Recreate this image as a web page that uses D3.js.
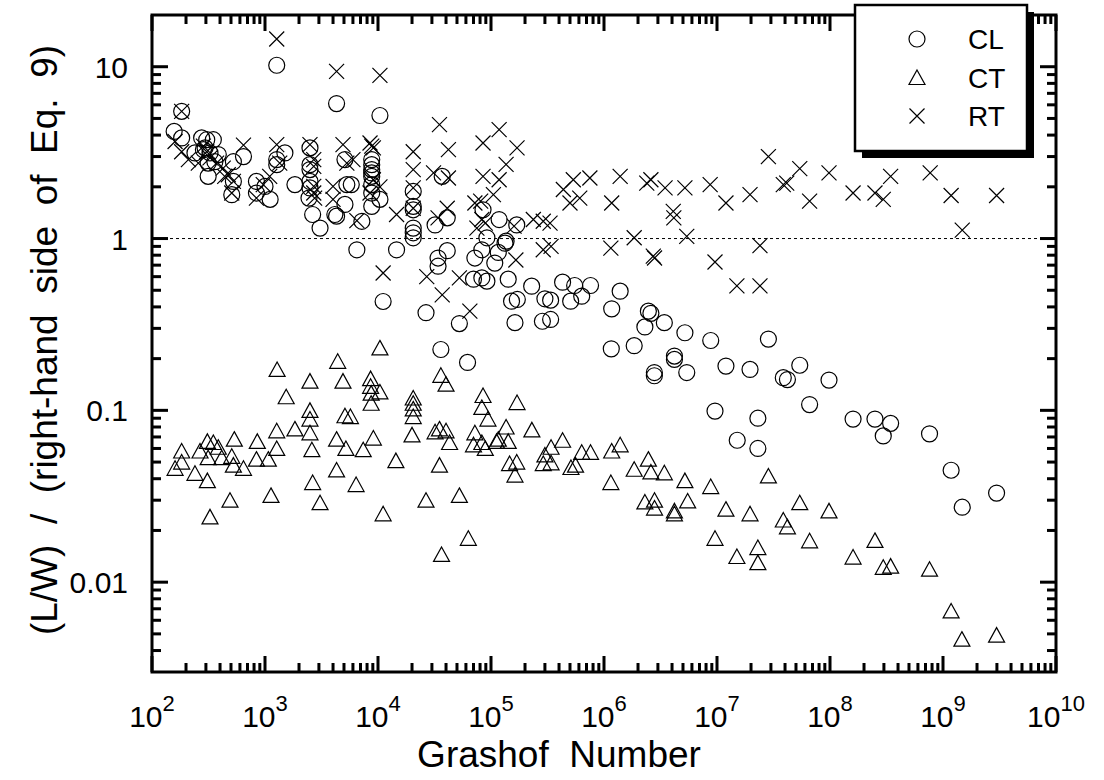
<!DOCTYPE html>
<html>
<head>
<meta charset="utf-8">
<script src="https://cdn.jsdelivr.net/npm/d3@7"></script>
<style>
  body { margin: 0; background: #fff; }
  text { font-family: "Liberation Sans", Arial, Helvetica, sans-serif; fill: #000; }
</style>
</head>
<body>
<div id="container"></div>
<script>
// [Grashof number, (L/W)/(rhs of Eq. 9)]
let clData = [
  [157,4.2],[183,5.5],[183,3.85],[240,3.15],[275,3.85],[305,3.76],[349,3.76],[285,3.29],[326,3.15],[386,3.08],
  [314,2.75],[360,2.8],[314,2.3],[295,3.37],[525,2.8],[645,3.0],[525,2.15],[508,1.8],[840,2.15],[1000,2.01],
  [1110,1.69],[840,1.84],[1840,2.06],[1270,2.88],[1270,2.69],[1500,3.15],[1270,10.2],
  [2500,3.37],[2500,2.69],[2500,2.52],[2500,1.97],[2450,1.72],[2640,1.38],[3070,1.15],[2500,2.15],
  [4300,6.1],[5100,2.88],[5300,2.06],[5800,2.06],[5100,1.58],[4150,1.38],[4300,1.35],[7200,1.26],[6500,0.86],
  [8800,2.88],[8800,2.69],[8800,2.52],[8800,2.41],[8800,2.3],[8800,2.06],[8800,1.84],[8800,1.54],[10400,1.69],[10400,5.2],
  [14600,0.86],[20500,1.88],[20500,1.54],[20500,1.47],[20500,1.15],[20500,1.08],[20500,1.01],
  [37000,2.3],[32000,1.2],[41000,1.32],[34000,0.77],[34000,0.69],[41000,0.85],[36000,0.226],[11100,0.43],[26600,0.37],
  [52500,0.32],[62000,0.19],[85000,1.47],[118000,1.29],[169000,1.2],[92000,1.01],[136000,0.965],[72000,0.77],[83000,0.86],
  [108000,0.72],[116000,0.83],[133000,0.94],[70000,0.58],[83000,0.59],[92000,0.565],[142000,0.58],[152000,0.432],
  [171000,0.442],[163000,0.324],[229000,0.528],[300000,0.446],[337000,0.438],[285000,0.33],[337000,0.338],[430000,0.557],
  [507000,0.432],[635000,0.462],[550000,0.533],[760000,0.533],[1390000,0.494],[1170000,0.39],[1160000,0.228],[1850000,0.238],
  [2470000,0.378],[2600000,0.367],[2300000,0.306],[3420000,0.324],[5200000,0.283],[4200000,0.207],[4200000,0.198],
  [5400000,0.166],[2790000,0.166],[2790000,0.159],[8800000,0.255],[1.2e7,0.181],[1.96e7,0.173],[9.6e6,0.099],[2.3e7,0.09],
  [1.51e7,0.067],[2.3e7,0.06],[2.85e7,0.26],[3.86e7,0.155],[4.2e7,0.151],[5.4e7,0.183],[9.8e7,0.15],[6.6e7,0.108],
  [1.6e8,0.089],[2.5e8,0.089],[3.44e8,0.084],[2.96e8,0.071],[7.6e8,0.073],[1.18e9,0.0448],[2.98e9,0.033],[1.48e9,0.0273]
];

let ctData = [
  [183,0.058],[183,0.050],[160,0.046],[240,0.043],[309,0.039],[326,0.024],[309,0.066],[349,0.065],[266,0.058],[386,0.061],
  [314,0.053],[414,0.053],[508,0.054],[525,0.048],[645,0.046],[535,0.068],[490,0.030],[855,0.066],[840,0.052],[1070,0.052],
  [1270,0.060],[1270,0.076],[1130,0.032],[1280,0.173],[1540,0.12],[1840,0.078],[2500,0.148],[2500,0.1],[2500,0.089],
  [2500,0.074],[2600,0.059],[2640,0.038],[3070,0.029],[4400,0.193],[4900,0.148],[5100,0.093],[5700,0.092],[4300,0.068],
  [5200,0.060],[4300,0.045],[6400,0.037],[7400,0.059],[9100,0.069],[8600,0.153],[8600,0.138],[8700,0.126],[8700,0.110],
  [10400,0.128],[10400,0.231],[11100,0.025],[14400,0.051],[20500,0.118],[20500,0.110],[20500,0.102],[20500,0.092],
  [20000,0.072],[26600,0.030],[32000,0.075],[35000,0.078],[40000,0.076],[35000,0.048],[36500,0.0145],[36000,0.16],
  [40000,0.142],[85000,0.122],[83000,0.104],[94000,0.089],[170000,0.111],[136000,0.080],[230000,0.077],[43000,0.065],
  [72000,0.074],[70000,0.063],[83000,0.065],[89000,0.060],[112000,0.066],[116000,0.068],[142000,0.066],[52500,0.032],
  [63000,0.018],[146000,0.049],[169000,0.05],[163000,0.042],[300000,0.055],[340000,0.061],[430000,0.067],[290000,0.049],
  [340000,0.0495],[510000,0.0465],[560000,0.048],[635000,0.057],[760000,0.057],[1170000,0.058],[1390000,0.063],
  [1150000,0.038],[1850000,0.0454],[2470000,0.052],[2600000,0.0438],[3420000,0.0433],[5200000,0.039],[8800000,0.036],
  [2300000,0.0293],[2800000,0.030],[2800000,0.027],[4200000,0.026],[4200000,0.025],[5500000,0.0297],[1.2e7,0.0266],
  [1.96e7,0.025],[9.6e6,0.018],[1.5e7,0.0141],[2.3e7,0.0159],[2.3e7,0.013],[2.85e7,0.0415],[5.4e7,0.029],[9.8e7,0.026],
  [3.86e7,0.023],[4.2e7,0.021],[6.6e7,0.0174],[1.6e8,0.014],[2.5e8,0.0175],[2.96e8,0.0122],[3.44e8,0.0124],
  [7.6e8,0.0119],[1.18e9,0.0068],[1.47e9,0.00466],[2.98e9,0.00492]
];

let rtData = [
  [183,5.5],[160,3.67],[183,3.2],[210,2.88],[257,2.75],[285,3.45],[305,3.2],[326,2.95],[373,2.75],[427,2.57],
  [473,2.35],[525,2.15],[508,1.84],[440,2.3],[645,3.5],[840,1.72],[965,2.06],[1100,2.3],[1350,2.75],[1270,14.5],
  [1270,3.52],[2500,3.52],[2700,2.88],[2700,2.63],[2700,2.01],[2700,1.84],[2750,1.72],[4300,9.4],[4900,3.52],
  [5300,2.75],[6000,2.88],[4000,2.01],[4000,1.69],[6500,1.27],[8500,3.6],[8800,3.45],[9100,3.37],[9100,2.2],
  [10400,2.0],[8500,1.84],[10400,8.9],[14600,1.38],[20500,3.2],[20500,2.52],[20500,1.97],[20500,1.5],[31000,2.41],
  [35000,4.6],[42000,3.29],[42000,2.25],[41000,1.5],[34000,1.32],[11100,0.63],[27000,0.6],[37000,0.47],[52500,0.59],
  [65000,0.378],[85000,3.6],[118000,4.3],[170000,3.37],[136000,2.7],[85000,2.3],[118000,2.2],[105000,1.8],
  [72000,1.61],[81000,1.65],[83000,1.29],[89000,1.23],[75000,1.15],[160000,1.18],[166000,0.75],[290000,0.86],
  [340000,0.9],[1150000,0.88],[2730000,0.79],[2800000,0.77],[9600000,0.73],[1.5e7,0.53],[2.4e7,0.53],[2.4e7,0.91],
  [237000,1.29],[290000,1.26],[333000,1.23],[437000,1.93],[535000,2.2],[750000,2.25],[500000,1.61],[610000,1.72],
  [1390000,2.3],[1170000,1.61],[2390000,2.1],[2600000,2.2],[3470000,1.97],[5200000,1.97],[8700000,2.06],[1.2e7,1.61],
  [1.96e7,1.8],[4100000,1.44],[4150000,1.32],[1850000,1.01],[5400000,1.03],[2.85e7,3.0],[5.4e7,2.55],[3.86e7,2.06],
  [4.14e7,2.1],[6.6e7,1.65],[9.8e7,2.41],[1.6e8,1.84],[2.5e8,1.84],[2.96e8,1.69],[3.44e8,2.3],[7.7e8,2.41],
  [1.18e9,1.78],[2.98e9,1.78],[1.48e9,1.12]
];

let xExponents = [2, 3, 4, 5, 6, 7, 8, 9, 10];
let yTickValues = [10, 1, 0.1, 0.01];
let yTickLabels = ["10", "1", "0.1", "0.01"];
let legendNames = ["CL", "CT", "RT"];

let w = 1104;
let h = 780;
let padLeft = 152, padRight = 1056, padTop = 15, padBottom = 672;

let viz = d3.select("#container")
  .append("svg")
    .attr("width", w)
    .attr("height", h)
;
viz.append("rect").attr("width", w).attr("height", h).attr("fill", "#fff");

let xScale = d3.scaleLog().domain([1e2, 1e10]).range([padLeft, padRight]);
let yScale = d3.scaleLog().domain([0.003, 20]).range([padBottom, padTop]);

// tick positions: 1..9 times each power of ten
let xMajor = xExponents.map(e => Math.pow(10, e));
let xMinor = [];
xExponents.slice(0, -1).forEach(function(e) {
  [2, 3, 4, 5, 6, 7, 8, 9].forEach(m => xMinor.push(m * Math.pow(10, e)));
});
let yMajor = yTickValues.slice();
let yMinor = [];
[-3, -2, -1, 0, 1].forEach(function(e) {
  [2, 3, 4, 5, 6, 7, 8, 9].forEach(function(m) {
    let v = m * Math.pow(10, e);
    if (v > 0.003 && v < 20) yMinor.push(v);
  });
});

// frame
viz.append("rect")
  .attr("x", padLeft).attr("y", padTop)
  .attr("width", padRight - padLeft).attr("height", padBottom - padTop)
  .attr("fill", "none").attr("stroke", "#000").attr("stroke-width", 3);

// inward ticks drawn as small filled rectangles
let tickLayer = viz.append("g").attr("fill", "#000");
function xTickRects(values, len) {
  tickLayer.selectAll(null).data(values).enter().append("rect")
    .attr("x", d => xScale(d) - 1.5).attr("y", padBottom - len)
    .attr("width", 3).attr("height", len);
  tickLayer.selectAll(null).data(values).enter().append("rect")
    .attr("x", d => xScale(d) - 1.5).attr("y", padTop)
    .attr("width", 3).attr("height", len);
}
function yTickRects(values, len) {
  tickLayer.selectAll(null).data(values).enter().append("rect")
    .attr("x", padLeft).attr("y", d => yScale(d) - 1.5)
    .attr("width", len).attr("height", 3);
  tickLayer.selectAll(null).data(values).enter().append("rect")
    .attr("x", padRight - len).attr("y", d => yScale(d) - 1.5)
    .attr("width", len).attr("height", 3);
}
xTickRects(xMinor, 9);
xTickRects(xMajor, 16);
yTickRects(yMinor, 9);
yTickRects(yMajor, 16);

// reference line at 1
viz.append("line")
  .attr("x1", padLeft).attr("x2", padRight)
  .attr("y1", yScale(1)).attr("y2", yScale(1))
  .attr("stroke", "#000").attr("stroke-width", 1).attr("stroke-dasharray", "3,3");

// x tick labels 10^n
let xLabels = viz.append("g").selectAll("text").data(xExponents).enter()
  .append("text")
    .attr("x", d => xScale(Math.pow(10, d)))
    .attr("y", 727)
    .attr("text-anchor", "middle")
    .attr("font-size", 30);
xLabels.append("tspan").text("10");
xLabels.append("tspan").text(d => d).attr("font-size", 22).attr("dy", -16);

// y tick labels
viz.append("g").selectAll("text").data(yTickValues).enter()
  .append("text")
    .attr("x", 128)
    .attr("y", d => yScale(d) + 11)
    .attr("text-anchor", "end")
    .attr("font-size", 30)
    .text((d, i) => yTickLabels[i]);

// axis titles
viz.append("text")
  .attr("x", 559).attr("y", 767)
  .attr("text-anchor", "middle")
  .attr("font-size", 37)
  .style("white-space", "pre")
  .text("Grashof  Number");

viz.append("text")
  .attr("transform", "translate(57,340) rotate(-90)")
  .attr("text-anchor", "middle")
  .attr("font-size", 37)
  .style("white-space", "pre")
  .text("(L/W)  /  (right-hand  side  of  Eq.  9)");

// markers
let triPath = "M0,-7.5L8,7L-8,7Z";
let crossPath = "M-7.5,-7.5L7.5,7.5M-7.5,7.5L7.5,-7.5";

let marks = viz.append("g").attr("fill", "none").attr("stroke", "#000").attr("stroke-width", 1.2);

marks.selectAll(".cl").data(clData).enter()
  .append("circle").attr("class", "cl")
    .attr("cx", d => xScale(d[0]))
    .attr("cy", d => yScale(d[1]))
    .attr("r", 8);

marks.selectAll(".ct").data(ctData).enter()
  .append("path").attr("class", "ct")
    .attr("d", triPath)
    .attr("transform", d => "translate(" + xScale(d[0]) + "," + yScale(d[1]) + ")");

marks.selectAll(".rt").data(rtData).enter()
  .append("path").attr("class", "rt")
    .attr("d", crossPath)
    .attr("transform", d => "translate(" + xScale(d[0]) + "," + yScale(d[1]) + ")");

// legend
let legend = viz.append("g");
legend.append("rect").attr("x", 862).attr("y", 12).attr("width", 172).attr("height", 146).attr("fill", "#000");
legend.append("rect").attr("x", 855).attr("y", 5).attr("width", 172).attr("height", 146)
  .attr("fill", "#fff").attr("stroke", "#000").attr("stroke-width", 2.5);

let legendRows = legend.selectAll(".row").data(legendNames).enter()
  .append("g").attr("class", "row")
    .attr("transform", (d, i) => "translate(917," + (39 + i * 38.5) + ")");

legendRows.each(function(d, i) {
  let g = d3.select(this);
  if (i === 0) g.append("circle").attr("r", 8);
  if (i === 1) g.append("path").attr("d", triPath);
  if (i === 2) g.append("path").attr("d", crossPath);
  g.selectAll("circle, path").attr("fill", "none").attr("stroke", "#000").attr("stroke-width", 1.2);
  g.append("text").attr("x", 51).attr("y", 10).attr("font-size", 28).text(d);
});
</script>
</body>
</html>
